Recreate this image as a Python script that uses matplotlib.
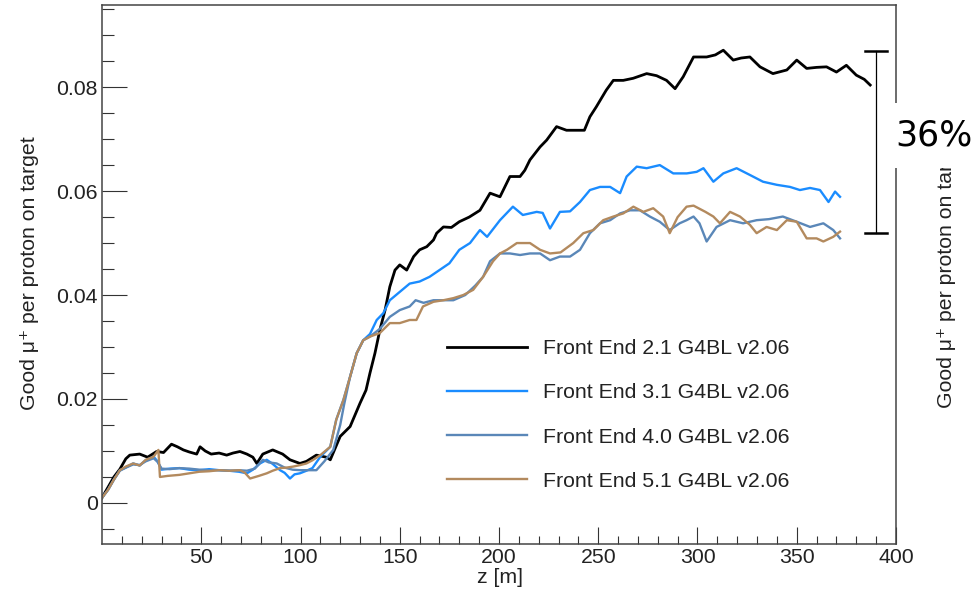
import numpy as np
import matplotlib.pyplot as plt
from matplotlib.patches import Rectangle
from matplotlib.ticker import MultipleLocator, FixedLocator
from matplotlib.transforms import Bbox

plt.rcParams['font.family'] = ['Liberation Sans', 'DejaVu Sans']

# Good mu+ per proton on target along the channel, one series per front end lattice
z_fe21 = [0, 3, 6, 9, 12, 14, 19, 23, 27.5, 31, 35, 38, 41, 44, 47.7, 49.4, 52, 55, 59, 62.8,
          66, 69.5, 73, 76, 78, 81, 86, 91, 94.7, 99.7, 103, 108, 113, 115, 120, 125, 130, 133,
          135, 137.5, 140, 142.6, 145, 147.6, 150, 153.5, 157, 160, 163.6, 167, 168.6, 172, 176,
          180, 185, 190.4, 195.5, 200.5, 205.5, 210.6, 213, 215.6, 220.7, 224, 229, 234, 239,
          243, 245.8, 249, 254, 257.6, 262.6, 267.6, 274.4, 279.4, 284.4, 288.7, 292.8, 298,
          304.6, 309, 313, 318, 322, 326.4, 331.5, 338, 345, 350, 355, 360, 365, 370, 375, 380,
          384, 387]
v_fe21 = [0.001, 0.003, 0.005, 0.0065, 0.0085, 0.0092, 0.0094, 0.0088, 0.0099, 0.0097, 0.0113,
          0.0108, 0.0102, 0.0098, 0.0094, 0.0108, 0.0100, 0.0094, 0.0096, 0.0092, 0.0096, 0.0099,
          0.0094, 0.0088, 0.0076, 0.0094, 0.0102, 0.0094, 0.0083, 0.0076, 0.0080, 0.0092, 0.0088,
          0.0083, 0.0128, 0.0147, 0.0192, 0.0217, 0.025, 0.0288, 0.0333, 0.0371, 0.0416, 0.0448,
          0.0458, 0.0448, 0.0474, 0.0487, 0.0493, 0.0506, 0.0519, 0.0531, 0.0530, 0.0541, 0.0550,
          0.0563, 0.0596, 0.0589, 0.0628, 0.0628, 0.064, 0.066, 0.0685, 0.0698, 0.0724, 0.0717,
          0.0717, 0.0717, 0.0743, 0.0762, 0.0794, 0.0813, 0.0813, 0.0817, 0.0826, 0.0822, 0.0813,
          0.0797, 0.082, 0.0858, 0.0858, 0.0862, 0.0871, 0.0852, 0.0856, 0.0858, 0.0839, 0.0826,
          0.0833, 0.0852, 0.0836, 0.0838, 0.0839, 0.0829, 0.0842, 0.0823, 0.0815, 0.0804]

z_fe31 = [0, 3, 6, 9, 12, 15.7, 19, 22, 26, 28, 30, 34, 39, 44, 49, 54, 59, 64, 69, 73, 76,
          79.6, 83, 86, 89.7, 92, 94.7, 97, 99.7, 103, 106, 110, 115, 118, 121.6, 125, 128.3,
          131.6, 135, 138.4, 141.7, 145, 150, 155, 160, 165, 170, 175, 180, 185.4, 190.4, 194,
          200.5, 207, 212, 219, 222, 225.7, 230.7, 235.8, 240.8, 245.8, 250.9, 256, 261, 264.3,
          269.4, 274.4, 281, 287.8, 294.6, 299.6, 303, 308, 313, 319.7, 326.4, 333, 340, 346.6,
          351.6, 356.7, 361.7, 366, 369.3, 371.8]
v_fe31 = [0.001, 0.0025, 0.0045, 0.0063, 0.0068, 0.0076, 0.0072, 0.0082, 0.0089, 0.0080, 0.0064,
          0.0066, 0.0067, 0.0064, 0.0063, 0.0065, 0.0063, 0.0062, 0.0060, 0.0057, 0.0064, 0.0076,
          0.0083, 0.0075, 0.0063, 0.0058, 0.0047, 0.0055, 0.0057, 0.0062, 0.0067, 0.0089, 0.0108,
          0.016, 0.0198, 0.0243, 0.0288, 0.0313, 0.0325, 0.0352, 0.0365, 0.039, 0.0406, 0.0422,
          0.0426, 0.0435, 0.0448, 0.0461, 0.0487, 0.05, 0.0525, 0.0512, 0.0544, 0.057, 0.0554,
          0.056, 0.0558, 0.0528, 0.056, 0.0561, 0.0579, 0.0602, 0.0608, 0.0608, 0.0596, 0.0628,
          0.0647, 0.0644, 0.065, 0.0634, 0.0634, 0.0637, 0.0644, 0.0618, 0.0634, 0.0644, 0.0631,
          0.0618, 0.0612, 0.0608, 0.0602, 0.0606, 0.0602, 0.0579, 0.0599, 0.0589]

z_fe40 = [0, 3, 6, 9, 12, 15.7, 19, 22, 26, 28, 30, 34, 39, 44, 49, 54, 59, 64, 69, 73, 77, 81,
          84, 88, 92, 96, 100, 104, 108, 112, 116.5, 120, 122, 125, 128.3, 131.6, 135, 140, 145,
          150, 155, 158, 162, 167, 172, 177, 183, 188, 192, 195.5, 200.5, 205.5, 210.6, 215.6,
          220.7, 225.7, 230.7, 235.8, 240.8, 245.8, 250.9, 256, 261, 266, 271, 276, 281, 286,
          291, 294.5, 298, 301, 304.6, 309.6, 316.4, 323, 329.8, 336, 343, 350, 356.7, 363.4,
          368.4, 371.8]
v_fe40 = [0.001, 0.0025, 0.0045, 0.0062, 0.0068, 0.0074, 0.0073, 0.0080, 0.0086, 0.0079, 0.0066,
          0.0065, 0.0067, 0.0066, 0.0064, 0.0063, 0.0063, 0.0062, 0.0063, 0.0062, 0.0066, 0.0083,
          0.0078, 0.0076, 0.0068, 0.0064, 0.0063, 0.0063, 0.0063, 0.0080, 0.0102, 0.0150, 0.0190,
          0.0243, 0.0288, 0.0313, 0.032, 0.0335, 0.0358, 0.0371, 0.0378, 0.039, 0.0385, 0.0390,
          0.0390, 0.0390, 0.0400, 0.0418, 0.0435, 0.0465, 0.048, 0.048, 0.0477, 0.048, 0.048,
          0.0467, 0.0474, 0.0474, 0.0487, 0.0519, 0.0538, 0.0544, 0.0557, 0.0563, 0.0563, 0.0551,
          0.0541, 0.0525, 0.0538, 0.0544, 0.0551, 0.0538, 0.0503, 0.0531, 0.0544, 0.0538, 0.0544,
          0.0546, 0.0551, 0.0541, 0.0531, 0.0538, 0.0525, 0.0509]

z_fe51 = [0, 3, 6, 9, 12, 15.7, 19, 22, 26, 28.4, 29.2, 33, 39, 44, 49, 54, 59, 64, 69.5, 72,
          74.6, 79, 83, 86, 89.7, 93, 96.4, 100, 103, 106, 110, 115, 118, 121.6, 125, 128.3,
          131.6, 135, 140, 145, 150, 155, 158.4, 161.7, 167, 172, 177, 182, 187, 192, 197, 200.5,
          204, 209, 215.6, 220.7, 225.7, 231, 237.4, 242.5, 247.5, 252.5, 257.6, 262.6, 267.7,
          272.7, 277.7, 282.7, 286, 290, 294.5, 298, 300.5, 304, 308, 311.3, 316.4, 321.4, 326.4,
          329.8, 334.8, 340, 345, 350, 355, 360, 363.4, 368.4, 371.8]
v_fe51 = [0.001, 0.0025, 0.0045, 0.0063, 0.007, 0.0076, 0.0072, 0.0083, 0.0089, 0.0102, 0.005,
          0.0052, 0.0054, 0.0057, 0.006, 0.0061, 0.0063, 0.0062, 0.0063, 0.0058, 0.0047, 0.0052,
          0.0057, 0.0062, 0.0067, 0.0068, 0.0070, 0.0073, 0.0076, 0.0082, 0.0092, 0.0108, 0.016,
          0.0198, 0.0243, 0.0288, 0.0313, 0.032, 0.0327, 0.0346, 0.0346, 0.0352, 0.0352, 0.0378,
          0.0387, 0.039, 0.0394, 0.04, 0.041, 0.0435, 0.0465, 0.048, 0.0487, 0.05, 0.050, 0.0487,
          0.048, 0.0482, 0.05, 0.0519, 0.0525, 0.0544, 0.0551, 0.0557, 0.057, 0.056, 0.0567,
          0.0551, 0.0519, 0.055, 0.057, 0.0572, 0.0567, 0.0560, 0.0551, 0.0538, 0.056, 0.0551,
          0.0535, 0.0519, 0.0531, 0.0525, 0.0544, 0.0541, 0.0509, 0.0509, 0.0503, 0.0512, 0.0522]

labels = ['Front End 2.1 G4BL v2.06', 'Front End 3.1 G4BL v2.06',
          'Front End 4.0 G4BL v2.06', 'Front End 5.1 G4BL v2.06']
colors = ['#000000', '#1a8cff', '#5a87b8', '#b38a5e']

# loss between the best and the newer lattices
gap_top = 0.0869
gap_bottom = 0.0519
gap_text = '36%'

y_title = 'Good μ⁺ per proton on target'


def draw_plot():
    fig = plt.figure(figsize=(9.75, 5.92), dpi=100)
    ax = fig.add_axes([102 / 975, 48 / 592, 794 / 975, 539 / 592])

    series = [(z_fe21, v_fe21), (z_fe31, v_fe31), (z_fe40, v_fe40), (z_fe51, v_fe51)]
    widths = [2.0, 1.7, 1.7, 1.7]
    for (z, v), lab, col, lw in zip(series, labels, colors, widths):
        ax.plot(z, v, color=col, lw=lw, label=lab)

    ax.set_xlim(0, 400)
    ax.set_ylim(-0.0079, 0.0958)

    ax.xaxis.set_major_locator(FixedLocator([50, 100, 150, 200, 250, 300, 350, 400]))
    ax.xaxis.set_minor_locator(FixedLocator([m for m in range(10, 400, 10) if m % 50]))
    ax.yaxis.set_major_locator(FixedLocator([0, 0.02, 0.04, 0.06, 0.08]))
    ax.yaxis.set_minor_locator(MultipleLocator(0.005))
    ax.set_yticklabels(['0', '0.02', '0.04', '0.06', '0.08'])

    ax.tick_params(axis='both', which='both', direction='in', labelsize=15.3,
                   color='#333333', width=0.8, pad=3, labelcolor='#222222')
    ax.tick_params(axis='y', which='major', length=18)
    ax.tick_params(axis='y', which='minor', length=8.6)
    ax.tick_params(axis='x', which='major', length=12)
    ax.tick_params(axis='x', which='minor', length=6)
    for sp in ax.spines.values():
        sp.set_color('#444444')
        sp.set_linewidth(1.1)

    fig.text(500 / 975, 1 - 583 / 592, 'z [m]', ha='center', va='baseline',
             fontsize=15.3, color='#222222')
    fig.text(30 / 975, 1 - 410 / 592, y_title, rotation=90, ha='center', va='bottom',
             fontsize=15.3, color='#222222')

    leg = ax.legend(loc='upper left', bbox_to_anchor=(345 / 794, 205 / 539),
                    frameon=False, fontsize=15.3, handlelength=3.76, handletextpad=0.75,
                    labelspacing=1.19, borderpad=0, borderaxespad=0)
    for t in leg.get_texts():
        t.set_color('#222222')

    # bracket showing the drop between the lattices
    ax.plot([390, 390], [gap_bottom, gap_top], color='black', lw=0.9)
    ax.plot([384.5, 395.5], [gap_top, gap_top], color='black', lw=1.8)
    ax.plot([384.5, 395.5], [gap_bottom, gap_bottom], color='black', lw=1.8)

    # neighbouring panel's axis title, cut off below the percentage box
    side = fig.text(947 / 975, 1 - 408 / 592, y_title, rotation=90, ha='center',
                    va='bottom', fontsize=15.3, color='#222222')
    side.set_clip_box(Bbox.from_extents(900, 0, 975, 592 - 168))
    side.set_clip_on(True)

    fig.add_artist(Rectangle((893 / 975, 1 - 168 / 592), 82 / 975, 65 / 592,
                             transform=fig.transFigure, facecolor='white',
                             edgecolor='none', zorder=10))
    fig.text(895 / 975, 1 - 135 / 592, gap_text, ha='left', va='center',
             fontsize=25, family='DejaVu Sans', color='black', zorder=11)

    fig.savefig('out.png', dpi=100)


if __name__ == '__main__':
    draw_plot()
